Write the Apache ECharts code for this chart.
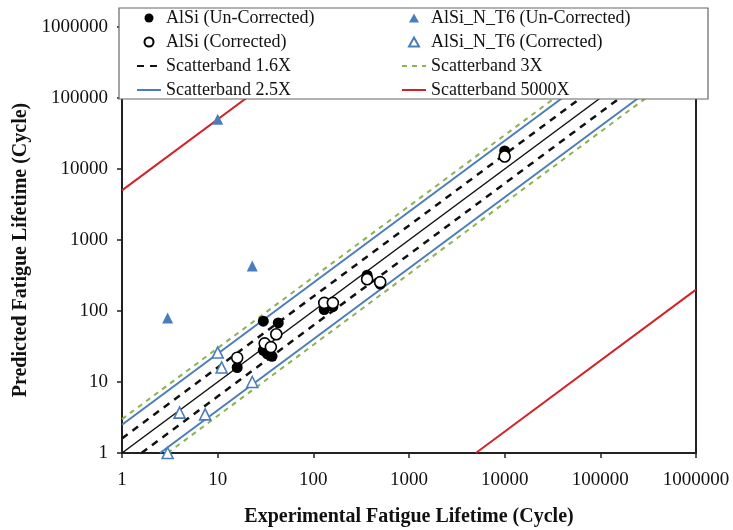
<!DOCTYPE html>
<html>
<head>
<meta charset="utf-8">
<script src="https://cdn.jsdelivr.net/npm/echarts@6/dist/echarts.min.js"></script>
<style>
  html, body { margin: 0; padding: 0; background: #fff; }
  #chart { width: 733px; height: 530px; }
</style>
</head>
<body>
<div id="chart"></div>
<script>
// Experimental vs predicted fatigue lifetime, [experimental, predicted] in cycles
const alsiUncorrected = [
  [16, 16], [30, 72], [43, 68], [30, 28], [33, 25], [37, 23],
  [130, 105], [160, 115], [365, 320], [500, 240], [10000, 18000]
];
const alsiCorrected = [
  [16, 22], [31, 35], [41, 47], [36, 31],
  [130, 130], [160, 130], [365, 280], [500, 255], [10000, 15000]
];
const t6Uncorrected = [[10, 50000], [3, 80], [23, 430]];
const t6Corrected = [[10, 26], [11, 16], [4, 3.7], [7.4, 3.5], [23, 10], [3, 1]];

// Scatterband factors around the 1:1 line
const band16 = 1.6;
const band25 = 2.5;
const band3 = 3;
const band5000 = 5000;

// Axis range and decade tick labels
const axisMin = 1;
const axisMax = 1000000;
const tickLabels = ['1', '10', '100', '1000', '10000', '100000', '1000000'];

const serif = 'Liberation Serif, Times New Roman, serif';
const BLUE = '#4a7ebb';
const GREEN = '#8cb44e';
const RED = '#d2232a';
const TRI = 'path://M5,0L10,9L0,9Z';

// Upper and lower bound lines for a factor f: predicted = f*exp, predicted = exp/f
function upperBand(f) { return [[axisMin, axisMin * f], [axisMax / f, axisMax]]; }
function lowerBand(f) { return [[axisMin * f, axisMin], [axisMax, axisMax / f]]; }

function lineSeries(name, data, color, width, type) {
  return {
    name: name,
    type: 'line',
    data: data,
    symbol: 'none',
    clip: true,
    silent: true,
    itemStyle: { color: color },
    lineStyle: { color: color, width: width, type: type },
    z: 2
  };
}

const dash16 = [7, 6];
const dash3 = [5, 5];

const series = [
  lineSeries('1:1', [[axisMin, axisMin], [axisMax, axisMax]], '#111', 1.5, 'solid'),
  lineSeries('Scatterband 1.6X', upperBand(band16), '#111', 2.5, dash16),
  lineSeries('Scatterband 1.6X', lowerBand(band16), '#111', 2.5, dash16),
  lineSeries('Scatterband 2.5X', upperBand(band25), BLUE, 2, 'solid'),
  lineSeries('Scatterband 2.5X', lowerBand(band25), BLUE, 2, 'solid'),
  lineSeries('Scatterband 3X', upperBand(band3), GREEN, 2, dash3),
  lineSeries('Scatterband 3X', lowerBand(band3), GREEN, 2, dash3),
  lineSeries('Scatterband 5000X', upperBand(band5000), RED, 2, 'solid'),
  lineSeries('Scatterband 5000X', lowerBand(band5000), RED, 2, 'solid'),
  {
    name: 'AlSi (Un-Corrected)', type: 'scatter', data: alsiUncorrected,
    symbol: 'circle', symbolSize: 11,
    itemStyle: { color: '#000', opacity: 1 }, z: 3
  },
  {
    name: 'AlSi (Corrected)', type: 'scatter', data: alsiCorrected,
    symbol: 'circle', symbolSize: 11,
    itemStyle: { color: '#fff', borderColor: '#000', borderWidth: 1.6, opacity: 1 }, z: 4
  },
  {
    name: 'AlSi_N_T6 (Un-Corrected)', type: 'scatter', data: t6Uncorrected,
    symbol: 'triangle', symbolSize: 11,
    itemStyle: { color: BLUE, opacity: 1 }, z: 3
  },
  {
    name: 'AlSi_N_T6 (Corrected)', type: 'scatter', data: t6Corrected,
    symbol: 'triangle', symbolSize: 11,
    itemStyle: { color: '#fff', borderColor: BLUE, borderWidth: 1.6, opacity: 1 }, z: 4
  }
];

function tickFormatter(v) {
  const i = Math.round(Math.log10(v));
  return tickLabels[i] !== undefined ? tickLabels[i] : '';
}

const legendText = { fontFamily: serif, fontSize: 18, color: '#111', lineHeight: 18 };
const lineOnly = { opacity: 0 };

function legendBlock(left, items) {
  return {
    orient: 'vertical', left: left, top: 9, z: 60, padding: 0,
    itemWidth: 24, itemHeight: 9, itemGap: 6,
    symbolKeepAspect: true,
    textStyle: legendText,
    data: items
  };
}

const option = {
  backgroundColor: '#fff',
  animation: false,
  grid: {
    left: 122, right: 37, top: 27, bottom: 77,
    outerBoundsMode: 'none',
    containLabel: false,
    show: true, borderColor: '#222', borderWidth: 2, backgroundColor: 'transparent'
  },
  xAxis: {
    type: 'log', logBase: 10, min: axisMin, max: axisMax,
    name: 'Experimental Fatigue Lifetime (Cycle)',
    nameLocation: 'middle', nameGap: 54,
    nameTextStyle: { fontFamily: serif, fontSize: 20, fontWeight: 'bold', color: '#111' },
    axisLine: { show: true, lineStyle: { color: '#222', width: 2 } },
    axisTick: { show: true, length: 5, lineStyle: { color: '#222', width: 1.5 } },
    minorTick: { show: false },
    splitLine: { show: false },
    axisLabel: { formatter: tickFormatter, fontFamily: serif, fontSize: 19, color: '#111', margin: 18 }
  },
  yAxis: {
    type: 'log', logBase: 10, min: axisMin, max: axisMax,
    name: 'Predicted Fatigue Lifetime (Cycle)',
    nameLocation: 'middle', nameGap: 88, nameRotate: 90,
    nameTextStyle: { fontFamily: serif, fontSize: 20, fontWeight: 'bold', color: '#111', padding: [0, 20, 0, 0] },
    axisLine: { show: true, lineStyle: { color: '#222', width: 2 } },
    axisTick: { show: true, length: 5, lineStyle: { color: '#222', width: 1.5 } },
    minorTick: { show: false },
    splitLine: { show: false },
    axisLabel: { formatter: tickFormatter, fontFamily: serif, fontSize: 19, color: '#111', margin: 14 }
  },
  graphic: [{
    type: 'rect', z: 50,
    shape: { x: 119, y: 8, width: 589, height: 91 },
    style: { fill: '#fff', stroke: '#666', lineWidth: 1.2 }
  }],
  legend: [
    legendBlock(136, [
      { name: 'AlSi (Un-Corrected)', icon: 'circle' },
      { name: 'AlSi (Corrected)', icon: 'circle' },
      { name: 'Scatterband 1.6X', itemStyle: lineOnly },
      { name: 'Scatterband 2.5X', itemStyle: lineOnly }
    ]),
    legendBlock(401, [
      { name: 'AlSi_N_T6 (Un-Corrected)', icon: TRI },
      { name: 'AlSi_N_T6 (Corrected)', icon: TRI },
      { name: 'Scatterband 3X', itemStyle: lineOnly },
      { name: 'Scatterband 5000X', itemStyle: lineOnly }
    ])
  ],
  series: series
};

const chart = echarts.init(document.getElementById('chart'), null, { renderer: 'canvas' });
chart.setOption(option);
</script>
</body>
</html>
